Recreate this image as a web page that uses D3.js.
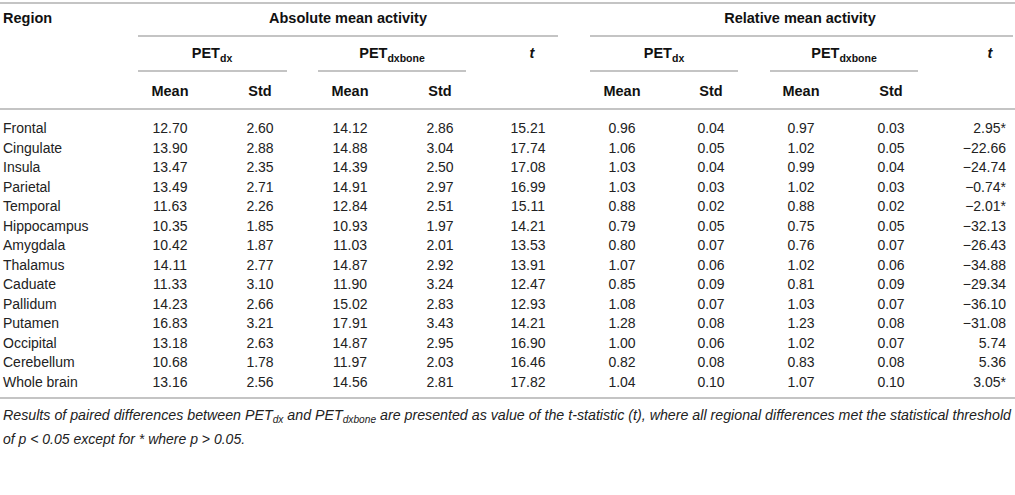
<!DOCTYPE html>
<html>
<head>
<meta charset="utf-8">
<script src="https://cdn.jsdelivr.net/npm/d3@7"></script>
<style>
  body { margin: 0; background: #fff; }
  svg { display: block; }
  .hd { font-family: "Liberation Sans", Arial, sans-serif; font-weight: bold; font-size: 14.5px; fill: #111; }
  .cell { font-family: "Liberation Sans", Arial, sans-serif; font-size: 14px; fill: #222; }
  .note { font-family: "Liberation Sans", Arial, sans-serif; font-style: italic; font-size: 14px; fill: #222; }
  .rule { stroke: #c4c4c4; stroke-width: 2; }
</style>
</head>
<body>
<svg width="1015" height="495"></svg>
<script>
// table values
const regions = ["Frontal", "Cingulate", "Insula", "Parietal", "Temporal", "Hippocampus", "Amygdala",
  "Thalamus", "Caduate", "Pallidum", "Putamen", "Occipital", "Cerebellum", "Whole brain"]
const absDxMean = [12.70, 13.90, 13.47, 13.49, 11.63, 10.35, 10.42, 14.11, 11.33, 14.23, 16.83, 13.18, 10.68, 13.16]
const absDxStd = [2.60, 2.88, 2.35, 2.71, 2.26, 1.85, 1.87, 2.77, 3.10, 2.66, 3.21, 2.63, 1.78, 2.56]
const absBoneMean = [14.12, 14.88, 14.39, 14.91, 12.84, 10.93, 11.03, 14.87, 11.90, 15.02, 17.91, 14.87, 11.97, 14.56]
const absBoneStd = [2.86, 3.04, 2.50, 2.97, 2.51, 1.97, 2.01, 2.92, 3.24, 2.83, 3.43, 2.95, 2.03, 2.81]
const absT = [15.21, 17.74, 17.08, 16.99, 15.11, 14.21, 13.53, 13.91, 12.47, 12.93, 14.21, 16.90, 16.46, 17.82]
const relDxMean = [0.96, 1.06, 1.03, 1.03, 0.88, 0.79, 0.80, 1.07, 0.85, 1.08, 1.28, 1.00, 0.82, 1.04]
const relDxStd = [0.04, 0.05, 0.04, 0.03, 0.02, 0.05, 0.07, 0.06, 0.09, 0.07, 0.08, 0.06, 0.08, 0.10]
const relBoneMean = [0.97, 1.02, 0.99, 1.02, 0.88, 0.75, 0.76, 1.02, 0.81, 1.03, 1.23, 1.02, 0.83, 1.07]
const relBoneStd = [0.03, 0.05, 0.04, 0.03, 0.02, 0.05, 0.07, 0.06, 0.09, 0.07, 0.08, 0.07, 0.08, 0.10]
const relT = [2.95, -22.66, -24.74, -0.74, -2.01, -32.13, -26.43, -34.88, -29.34, -36.10, -31.08, 5.74, 5.36, 3.05]
// regions where p > 0.05 for relative t
const notSig = ["Frontal", "Parietal", "Temporal", "Whole brain"]

const groupLabels = ["Absolute mean activity", "Relative mean activity"]
const statLabels = ["Mean", "Std"]

const svg = d3.select("svg")
const fmt = d3.format(".2f")
const num = v => fmt(v).replace("-", "\u2212")

// row positions
const y = d3.scalePoint()
  .domain(regions)
  .range([133, 387])

// column centres
const cols = [
  { vals: absDxMean, x: 170 },
  { vals: absDxStd, x: 260 },
  { vals: absBoneMean, x: 350 },
  { vals: absBoneStd, x: 440 },
  { vals: absT, x: 528 },
  { vals: relDxMean, x: 622 },
  { vals: relDxStd, x: 711 },
  { vals: relBoneMean, x: 801 },
  { vals: relBoneStd, x: 891 }
]

// rules
const rules = [
  [0, 1015, 3], [138, 558, 36], [590, 1013, 36],
  [138, 287, 71], [318, 466, 71], [590, 738, 71], [770, 918, 71],
  [0, 1015, 109], [0, 1015, 398]
]
svg.selectAll("line.rule")
  .data(rules)
  .enter()
  .append("line")
  .attr("class", "rule")
  .attr("x1", d => d[0])
  .attr("x2", d => d[1])
  .attr("y1", d => d[2])
  .attr("y2", d => d[2])

// header
svg.append("text").attr("class", "hd").attr("x", 3).attr("y", 23).text("Region")

svg.selectAll("text.grp")
  .data(groupLabels)
  .enter()
  .append("text")
  .attr("class", "hd grp")
  .attr("x", (d, i) => i ? 800 : 348)
  .attr("y", 23)
  .attr("text-anchor", "middle")
  .text(d => d)

const petX = [212, 392, 664, 844]
petX.forEach((px, i) => {
  const t = svg.append("text").attr("class", "hd").attr("x", px).attr("y", 58).attr("text-anchor", "middle")
  t.append("tspan").text("PET")
  t.append("tspan").attr("dy", 4).attr("font-size", 10.5).text(i % 2 ? "dxbone" : "dx")
})

svg.selectAll("text.th")
  .data([532, 990])
  .enter()
  .append("text")
  .attr("class", "hd th")
  .attr("x", d => d)
  .attr("y", 58)
  .attr("text-anchor", "middle")
  .attr("font-style", "italic")
  .text("t")

svg.selectAll("text.stat")
  .data(cols.filter((c, i) => i !== 4))
  .enter()
  .append("text")
  .attr("class", "hd stat")
  .attr("x", d => d.x)
  .attr("y", 96)
  .attr("text-anchor", "middle")
  .text((d, i) => statLabels[i % 2])

// body
svg.selectAll("text.reg")
  .data(regions)
  .enter()
  .append("text")
  .attr("class", "cell reg")
  .attr("x", 3)
  .attr("y", d => y(d))
  .text(d => d)

cols.forEach(c => {
  svg.selectAll(null)
    .data(c.vals)
    .enter()
    .append("text")
    .attr("class", "cell")
    .attr("x", c.x)
    .attr("y", (d, i) => y(regions[i]))
    .attr("text-anchor", "middle")
    .text(d => num(d))
})

svg.selectAll(null)
  .data(relT)
  .enter()
  .append("text")
  .attr("class", "cell")
  .attr("x", 1006)
  .attr("y", (d, i) => y(regions[i]))
  .attr("text-anchor", "end")
  .text((d, i) => num(d) + (notSig.includes(regions[i]) ? "*" : ""))

// footnote
const n1 = svg.append("text").attr("class", "note").attr("x", 3).attr("y", 420)
  .attr("textLength", 1008).attr("lengthAdjust", "spacingAndGlyphs")
n1.append("tspan").text("Results of paired differences between PET")
n1.append("tspan").attr("dy", 3).attr("font-size", 10).text("dx")
n1.append("tspan").attr("dy", -3).text(" and PET")
n1.append("tspan").attr("dy", 3).attr("font-size", 10).text("dxbone")
n1.append("tspan").attr("dy", -3).text(" are presented as value of the t-statistic (t), where all regional differences met the statistical threshold")

const n2 = svg.append("text").attr("class", "note").attr("x", 3).attr("y", 444)
n2.append("tspan").text("of ")
n2.append("tspan").text("p < 0.05 except for * where p > 0.05.")
</script>
</body>
</html>
